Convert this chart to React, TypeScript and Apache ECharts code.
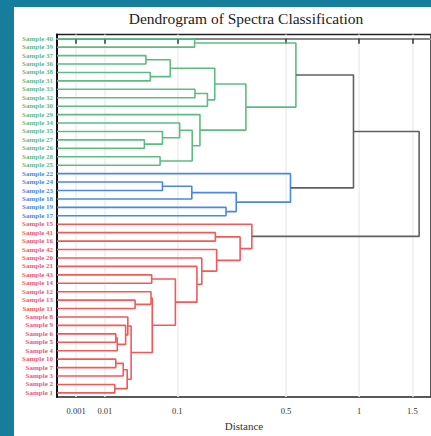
import React, { useEffect, useRef } from "react";
import * as echarts from "echarts";

// Leaves, top to bottom
const leaves = [
  "Sample 40", "Sample 39", "Sample 37", "Sample 36", "Sample 38", "Sample 31",
  "Sample 33", "Sample 32", "Sample 30", "Sample 29", "Sample 34", "Sample 35",
  "Sample 27", "Sample 26", "Sample 28", "Sample 25",
  "Sample 22", "Sample 24", "Sample 23", "Sample 18", "Sample 19", "Sample 17",
  "Sample 15", "Sample 41", "Sample 16", "Sample 42", "Sample 20", "Sample 21",
  "Sample 43", "Sample 14", "Sample 12", "Sample 13", "Sample 11", "Sample 8",
  "Sample 9", "Sample 6", "Sample 5", "Sample 4", "Sample 10", "Sample 7",
  "Sample 3", "Sample 2", "Sample 1",
];

// Cluster of each leaf (g = green, b = blue, r = red)
const leafGroups = [
  "g", "g", "g", "g", "g", "g", "g", "g", "g", "g", "g", "g", "g", "g", "g", "g",
  "b", "b", "b", "b", "b", "b",
  "r", "r", "r", "r", "r", "r", "r", "r", "r", "r", "r", "r", "r", "r", "r", "r", "r", "r", "r", "r", "r",
];

// Merges: [child A, child B, distance]; "#k" refers to the k-th merge
const links: [string, string, number][] = [
  ["Sample 40", "Sample 39", 0.140], // #0
  ["Sample 37", "Sample 36", 0.047], // #1
  ["Sample 38", "Sample 31", 0.053], // #2
  ["#1", "#2", 0.086], // #3
  ["Sample 33", "Sample 32", 0.141], // #4
  ["#4", "Sample 30", 0.175], // #5
  ["#3", "#5", 0.197], // #6
  ["Sample 27", "Sample 26", 0.045], // #7
  ["Sample 35", "#7", 0.072], // #8
  ["Sample 34", "#8", 0.105], // #9
  ["Sample 28", "Sample 25", 0.068], // #10
  ["#9", "#10", 0.134], // #11
  ["Sample 29", "#11", 0.154], // #12
  ["#6", "#12", 0.309], // #13
  ["#0", "#13", 0.556], // #14
  ["Sample 24", "Sample 23", 0.072], // #15
  ["#15", "Sample 18", 0.133], // #16
  ["Sample 19", "Sample 17", 0.234], // #17
  ["#16", "#17", 0.271], // #18
  ["Sample 22", "#18", 0.525], // #19
  ["#14", "#19", 0.954], // #20
  ["Sample 41", "Sample 16", 0.199], // #21
  ["Sample 43", "Sample 14", 0.055], // #22
  ["Sample 13", "Sample 11", 0.034], // #23
  ["Sample 12", "#23", 0.054], // #24
  ["Sample 6", "Sample 5", 0.0167], // #25
  ["#25", "Sample 4", 0.0178], // #26
  ["Sample 9", "#26", 0.0246], // #27
  ["Sample 8", "#27", 0.0266], // #28
  ["Sample 10", "Sample 7", 0.0167], // #29
  ["#29", "Sample 3", 0.0225], // #30
  ["Sample 2", "Sample 1", 0.016], // #31
  ["#30", "#31", 0.026], // #32
  ["#28", "#32", 0.0298], // #33
  ["#24", "#33", 0.0558], // #34
  ["#22", "#34", 0.0961], // #35
  ["Sample 21", "#35", 0.146], // #36
  ["Sample 20", "#36", 0.159], // #37
  ["Sample 42", "#37", 0.203], // #38
  ["#21", "#38", 0.286], // #39
  ["Sample 15", "#39", 0.334], // #40
  ["#20", "#40", 1.573], // #41
];

const tickValues = [0.001, 0.01, 0.1, 0.5, 1, 1.5];
const tickLabels = ["0.001", "0.01", "0.1", "0.5", "1", "1.5"];
const axisMaxDistance = 1.705;

const EXPONENT = 0.4;
const sc = (d: number) => Math.pow(d, EXPONENT);

const COLORS: Record<string, string> = {
  g: "#5fbb83",
  b: "#4b89e1",
  r: "#f25a5a",
  x: "#606060",
};
const SERIF = "Liberation Serif";
const TEAL = "#177d9d";

function buildOption() {
  const pos: Record<string, { x: number; y: number; g: string }> = {};
  leaves.forEach((l, i) => {
    pos[l] = { x: 0, y: i, g: leafGroups[i] };
  });
  const series: any[] = [];
  links.forEach(([a, b, d], k) => {
    const A = pos[a];
    const B = pos[b];
    const g = A.g === B.g ? A.g : "x";
    const h = sc(d);
    pos["#" + k] = { x: h, y: (A.y + B.y) / 2, g };
    series.push({
      type: "line",
      xAxisIndex: 0,
      yAxisIndex: 1,
      data: [
        [A.x, A.y],
        [h, A.y],
        [h, B.y],
        [B.x, B.y],
      ],
      symbol: "none",
      showSymbol: false,
      silent: true,
      lineStyle: { color: COLORS[g], width: 1.6 },
      z: 3,
    });
  });

  const tickT = tickValues.map(sc);
  const fmt = (v: number) => {
    const i = tickT.findIndex((t) => Math.abs(t - v) < 1e-9);
    return i >= 0 ? tickLabels[i] : "";
  };

  return {
    animation: false,
    backgroundColor: "#ffffff",
    title: {
      text: "Dendrogram of Spectra Classification",
      left: 246,
      top: 10,
      padding: 0,
      textAlign: "center",
      textStyle: { fontFamily: SERIF, fontSize: 15.5, fontWeight: "normal", color: "#222" },
    },
    grid: {
      left: 57,
      top: 34.5,
      width: 380,
      height: 366.5,
      show: true,
      borderColor: "#222",
      borderWidth: 1.5,
      backgroundColor: "transparent",
    },
    xAxis: {
      type: "value",
      min: 0,
      max: sc(axisMaxDistance),
      name: "Distance",
      nameLocation: "middle",
      nameGap: 21,
      nameTextStyle: { fontFamily: SERIF, fontSize: 11, color: "#333" },
      axisLine: { show: true, lineStyle: { color: "#888", width: 2 } },
      axisTick: { show: true, customValues: tickT, length: 5, lineStyle: { color: "#333", width: 1.5 } },
      axisLabel: { customValues: tickT, formatter: fmt, fontFamily: SERIF, fontSize: 8.5, color: "#333", margin: 9 },
      splitLine: { show: true, lineStyle: { color: "#eeeeee", width: 1.5 } },
    },
    yAxis: [
      {
        type: "category",
        data: leaves,
        inverse: true,
        axisLine: { show: true, lineStyle: { color: "#111", width: 2 } },
        axisTick: { show: false },
        splitLine: { show: false },
        axisLabel: {
          interval: 0,
          margin: 4,
          fontFamily: SERIF,
          fontSize: 7,
          fontWeight: "bold",
          color: (_v: any, i: number) => COLORS[leafGroups[i]],
        },
      },
      { type: "value", min: -0.5, max: leaves.length - 0.5, inverse: true, show: false, splitLine: { show: false } },
    ],
    graphic: [
      { type: "rect", z: 100, shape: { x: 0, y: 0, width: 14, height: 436 }, style: { fill: TEAL } },
      { type: "rect", z: 100, shape: { x: 0, y: 0, width: 431, height: 7 }, style: { fill: TEAL } },
    ],
    series,
  };
}

export default function App() {
  const ref = useRef<HTMLDivElement>(null);
  useEffect(() => {
    if (!ref.current) return;
    const chart = echarts.init(ref.current, undefined, { renderer: "svg" });
    chart.setOption(buildOption() as any);
    return () => chart.dispose();
  }, []);
  return <div ref={ref} style={{ position: "absolute", left: 0, top: 0, width: 431, height: 436 }} />;
}
